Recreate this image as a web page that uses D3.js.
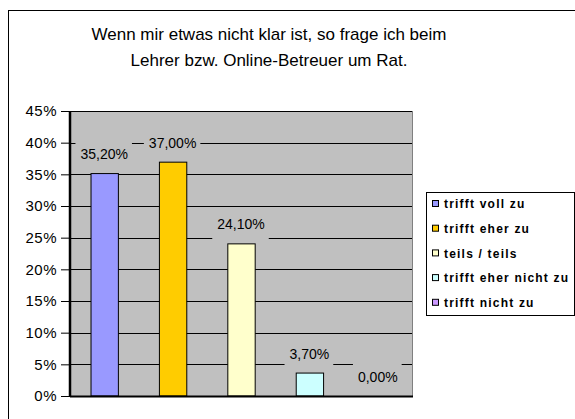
<!DOCTYPE html>
<html><head><meta charset="utf-8">
<script src="https://cdn.jsdelivr.net/npm/d3@7"></script>
<style>body{margin:0;background:#fff}svg{display:block}</style>
</head><body>
<script>
const categories = ["trifft voll zu","trifft eher zu","teils / teils","trifft eher nicht zu","trifft nicht zu"];
const values = [0.352, 0.370, 0.241, 0.037, 0.000];
const valueLabels = ["35,20%","37,00%","24,10%","3,70%","0,00%"];
const colors = ["#9999FF","#FFCC00","#FFFFCC","#CCFFFF","#CC99FF"];
const yTicks = [0,0.05,0.10,0.15,0.20,0.25,0.30,0.35,0.40,0.45];
const titleLines = ["Wenn mir etwas nicht klar ist, so frage ich beim","Lehrer bzw. Online-Betreuer um Rat."];

const W=575,H=419;
const svg=d3.select("body").append("svg").attr("width",W).attr("height",H);
const font="Liberation Sans, Arial, sans-serif";
svg.append("rect").attr("x",8.5).attr("y",10.5).attr("width",W+10).attr("height",H+10)
  .attr("fill","#fff").attr("stroke","#000");

titleLines.forEach((t,i)=>svg.append("text").attr("x",269).attr("y",40+i*25.5)
  .attr("text-anchor","middle").attr("font-family",font).attr("font-size",17).attr("fill","#000").text(t));

const L=70,R=412,T=111,B=396;
const x=d3.scaleBand().domain(categories).range([L,R]).paddingInner(0.6).paddingOuter(0.3);
const y=d3.scaleLinear().domain([0,0.45]).range([B,T]);

svg.append("rect").attr("x",L).attr("y",T).attr("width",R-L).attr("height",B-T).attr("fill","#C0C0C0");
const g=svg.append("g");
g.selectAll("line.grid").data(yTicks).join("line").attr("x1",L).attr("x2",R)
  .attr("y1",d=>Math.round(y(d))+0.5).attr("y2",d=>Math.round(y(d))+0.5).attr("stroke","#000");
svg.append("line").attr("x1",R+0.5).attr("x2",R+0.5).attr("y1",T).attr("y2",B).attr("stroke","#808080");

// labels with gray background
const lab=svg.append("g");
categories.forEach((c,i)=>{
  const cx=x(c)+x.bandwidth()/2, by=y(values[i])-14;
  const t=lab.append("text").attr("x",cx).attr("y",by).attr("text-anchor","middle")
    .attr("font-family",font).attr("font-size",14).attr("fill","#000").text(valueLabels[i]);
  const bb=t.node().getBBox();
  lab.insert("rect","text").attr("x",bb.x-5).attr("y",by-19).attr("width",bb.width+9).attr("height",30).attr("fill","#C0C0C0");
});

svg.append("g").selectAll("rect").data(categories).join("rect")
  .attr("x",d=>x(d)+0.5).attr("y",(d,i)=>y(values[i])+0.5).attr("width",x.bandwidth())
  .attr("height",(d,i)=>Math.max(0,B-y(values[i])-0.5)).attr("fill",(d,i)=>colors[i])
  .attr("stroke","#000").attr("stroke-width",1);

const ax=svg.append("g").attr("transform",`translate(${L},0)`)
  .call(d3.axisLeft(y).tickValues(yTicks).tickFormat(d3.format(".0%")).tickSize(9).tickPadding(4));
ax.select(".domain").remove();
ax.selectAll("text").attr("font-family",font).attr("font-size",15).attr("letter-spacing",0.5).attr("fill","#000");
ax.selectAll("line").attr("stroke","#000");
svg.append("line").attr("x1",L).attr("x2",L).attr("y1",T).attr("y2",B+1).attr("stroke","#000").attr("stroke-width",2.5);
svg.append("line").attr("x1",L).attr("x2",R+1).attr("y1",B+0.5).attr("y2",B+0.5).attr("stroke","#000").attr("stroke-width",2);

// legend
const lg=svg.append("g");
lg.append("rect").attr("x",426.5).attr("y",192.5).attr("width",148).attr("height",123).attr("fill","#fff").attr("stroke","#000");
categories.forEach((c,i)=>{
  const yy=204+i*24.7;
  lg.append("rect").attr("x",432.5).attr("y",yy-3.5).attr("width",6).attr("height",6).attr("fill",colors[i]).attr("stroke","#000");
  lg.append("text").attr("x",444).attr("y",yy).attr("dy","0.35em").attr("font-family",font).attr("font-size",12)
    .attr("font-weight","bold").attr("letter-spacing",1.2).attr("fill","#000").text(c);
});
</script>
</body></html>
